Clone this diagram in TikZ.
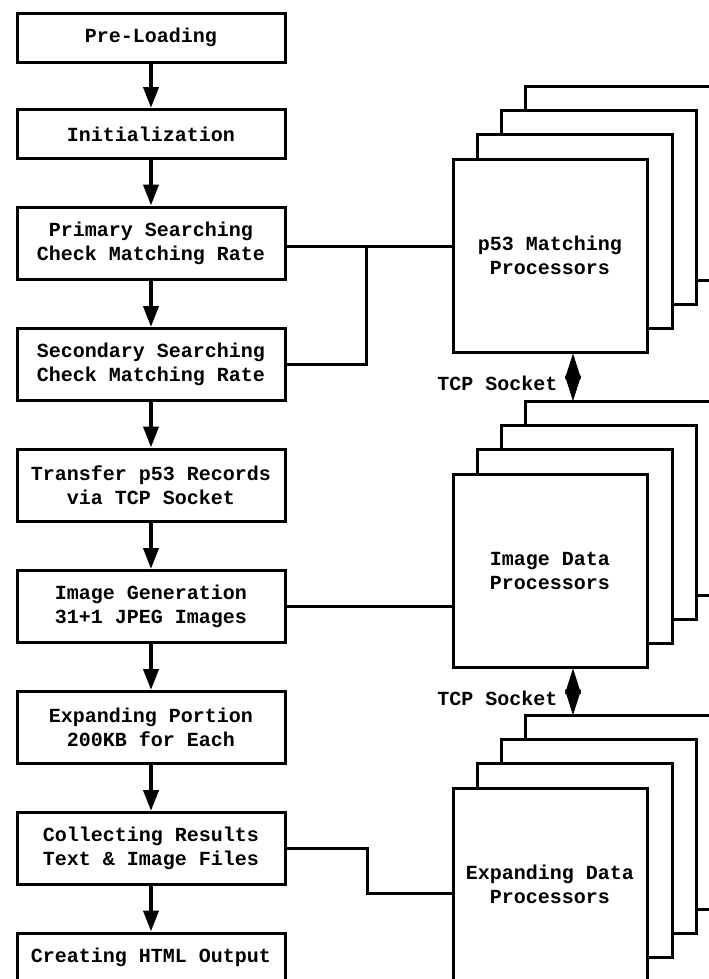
\documentclass[tikz,border=0pt]{standalone}
\usepackage{fontspec}
\newfontfamily\boxfont{Liberation Mono}
\usetikzlibrary{arrows.meta}

\tikzset{every picture/.style={line width=2.25pt}}
\tikzset{
  txt/.style={font=\boxfont\bfseries\fontsize{15}{18}\selectfont, align=center},
  stepbox/.style={txt, draw, fill=white, minimum width=201pt, minimum height=54pt, inner sep=0pt},
  procbox/.style={txt, draw, fill=white, minimum width=145.5pt, minimum height=144.75pt, inner sep=0pt},
  backbox/.style={draw, fill=white},
  flow/.style={line width=3pt, -{Triangle[width=11.25pt,length=15.75pt]}},
  socket/.style={line width=0.5pt, {Triangle[width=12pt,length=19pt]}-{Triangle[width=12pt,length=19pt]}}
}

\begin{document}
\begin{tikzpicture}[x=0.75pt,y=0.75pt,yscale=-1,xscale=1]
\clip[use as bounding box] (0,0) rectangle (709,979);

% Left column
\node[stepbox, minimum height=36.75pt] (pre) at (151,37.5) {Pre-Loading};
\node[stepbox, minimum height=36.75pt] (init) at (151,134) {Initialization};
\node[stepbox] (prim) at (151,243) {Primary Searching\\Check Matching Rate};
\node[stepbox] (sec) at (151,364.5) {Secondary Searching\\Check Matching Rate};
\node[stepbox] (trans) at (151,485) {Transfer p53 Records\\via TCP Socket};
\node[stepbox] (imgen) at (151,606.5) {Image Generation\\31+1 JPEG Images};
\node[stepbox] (expo) at (151,727.5) {Expanding Portion\\200KB for Each};
\node[stepbox] (coll) at (151,848.5) {Collecting Results\\Text \& Image Files};
\node[stepbox, minimum height=36.75pt] (html) at (151,957.5) {Creating HTML Output};

% Flow arrows
\draw[flow] (pre) -- (init);
\draw[flow] (init) -- (prim);
\draw[flow] (prim) -- (sec);
\draw[flow] (sec) -- (trans);
\draw[flow] (trans) -- (imgen);
\draw[flow] (imgen) -- (expo);
\draw[flow] (expo) -- (coll);
\draw[flow] (coll) -- (html);

% p53 matching stack
\draw[backbox] (525,86) rectangle (720,280);
\draw[backbox] (501,110) rectangle (696,304);
\draw[backbox] (477,134) rectangle (672,328);
\node[procbox] (match) at (550,255.5) {p53 Matching\\Processors};

% Image data stack
\draw[backbox] (525,401) rectangle (720,595);
\draw[backbox] (501,425) rectangle (696,619);
\draw[backbox] (477,449) rectangle (672,643);
\node[procbox] (imgdp) at (550,570.5) {Image Data\\Processors};

% Expanding data stack
\draw[backbox] (525,715) rectangle (720,909);
\draw[backbox] (501,739) rectangle (696,933);
\draw[backbox] (477,763) rectangle (672,957);
\node[procbox] (expdp) at (550,884.5) {Expanding Data\\Processors};

% Links to processors
\coordinate (jA) at (366,246);
\coordinate (jB) at (367,893);
\draw (prim.east |- jA) -- (jA) -- (jA -| match.west);
\draw (sec.east) -| (jA);
\draw (imgen.east) -- (imgen.east -| imgdp.west);
\draw (coll.east) -| (jB) -- (jB -| expdp.west);

% TCP sockets
\coordinate (sockA) at (573,401);
\coordinate (sockB) at (573,715);
\draw[socket] (match.south -| sockA) -- (sockA);
\draw[socket] (imgdp.south -| sockB) -- (sockB);
\node[txt, anchor=east, inner sep=0pt] (tcpA) at (559,383) {TCP Socket};
\node[txt, anchor=east, inner sep=0pt] (tcpB) at (559,698) {TCP Socket};

\end{tikzpicture}
\end{document}
